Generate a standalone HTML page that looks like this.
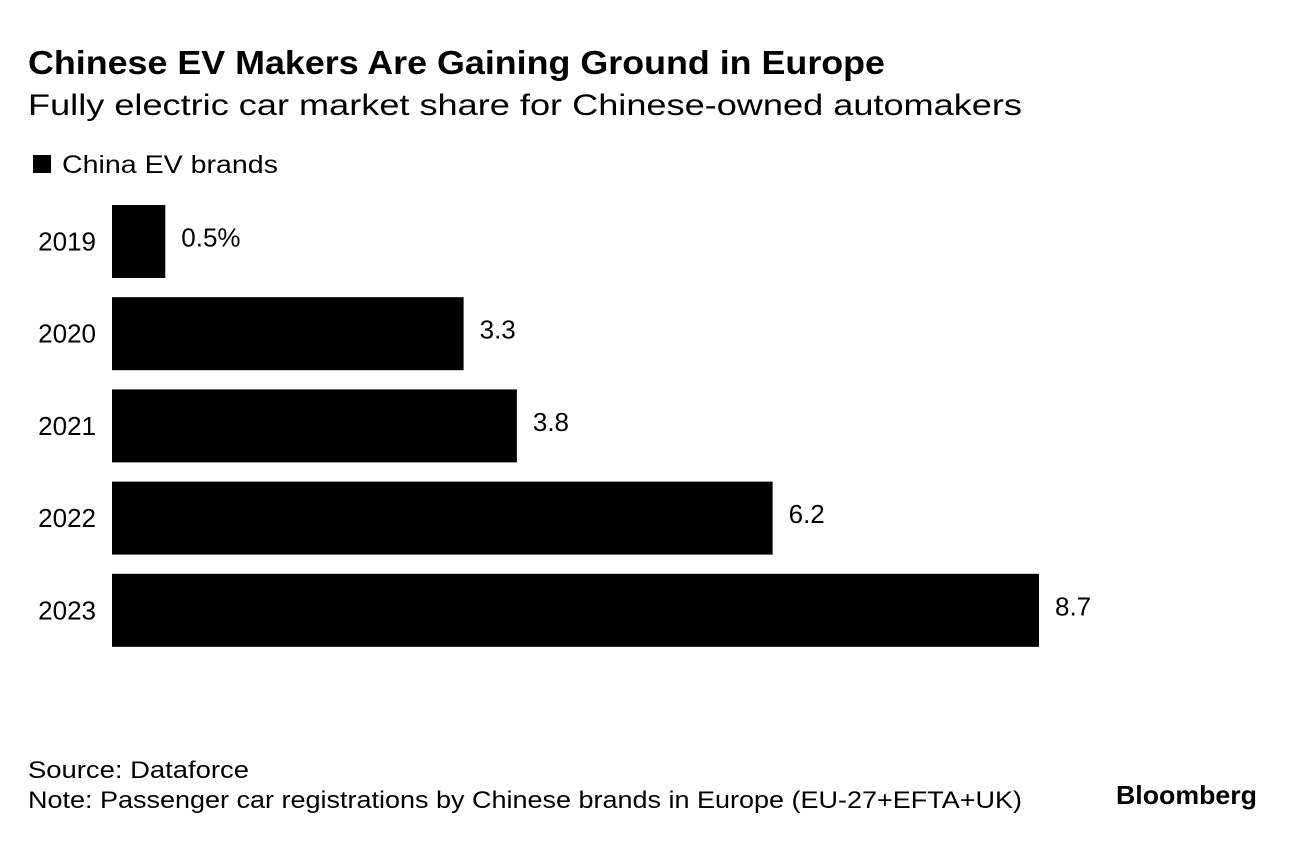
<!DOCTYPE html>
<html><head><meta charset="utf-8">
<style>
body{margin:0;background:#fff;width:1296px;height:838px;overflow:hidden;font-family:"Liberation Sans",Arial,sans-serif;color:#000}
svg text{font-family:"Liberation Sans",Arial,sans-serif}
</style></head>
<body>
<svg width="1296" height="838">
<text x="28" y="74" font-size="33" font-weight="bold" textLength="857" lengthAdjust="spacingAndGlyphs">Chinese EV Makers Are Gaining Ground in Europe</text>
<text x="28" y="115" font-size="30" textLength="994" lengthAdjust="spacingAndGlyphs">Fully electric car market share for Chinese-owned automakers</text>
<rect x="33" y="155" width="18" height="18" fill="#000"/>
<text x="62" y="173" font-size="25" textLength="216" lengthAdjust="spacingAndGlyphs">China EV brands</text>
<g id="bars"></g>
<text x="28" y="778" font-size="24" textLength="221" lengthAdjust="spacingAndGlyphs">Source: Dataforce</text>
<text x="28" y="808" font-size="24" textLength="994" lengthAdjust="spacingAndGlyphs">Note: Passenger car registrations by Chinese brands in Europe (EU-27+EFTA+UK)</text>
<text x="1116" y="804" font-size="26" font-weight="bold" textLength="141" lengthAdjust="spacingAndGlyphs">Bloomberg</text>
</svg>
<script>
const categories=["2019","2020","2021","2022","2023"];
const values=[0.5,3.3,3.8,6.2,8.7];
const valueLabels=["0.5%","3.3","3.8","6.2","8.7"];
const x0=112, pxPerUnit=106.55, top0=205, step=92.2, barH=73;
const xs=v=>x0+v*pxPerUnit;
const ys=i=>top0+i*step;
const g=document.getElementById('bars');
const ns="http://www.w3.org/2000/svg";
categories.forEach((c,i)=>{
  const r=document.createElementNS(ns,'rect');
  r.setAttribute('x',x0);r.setAttribute('y',ys(i));
  r.setAttribute('width',xs(values[i])-x0);r.setAttribute('height',barH);
  r.setAttribute('fill','#000');
  
  
  g.appendChild(r);
  const t=document.createElementNS(ns,'text');
  t.setAttribute('x',96);t.setAttribute('y',ys(i)+barH/2+9);
  t.setAttribute('font-size','26');t.setAttribute('text-anchor','end');
  t.textContent=c;
  
  
  g.appendChild(t);
  const v=document.createElementNS(ns,'text');
  v.setAttribute('x',xs(values[i])+16);v.setAttribute('y',ys(i)+barH/2+5);
  v.setAttribute('font-size','26');
  v.textContent=valueLabels[i];
  
  
  g.appendChild(v);
});
</script>
</body></html>
